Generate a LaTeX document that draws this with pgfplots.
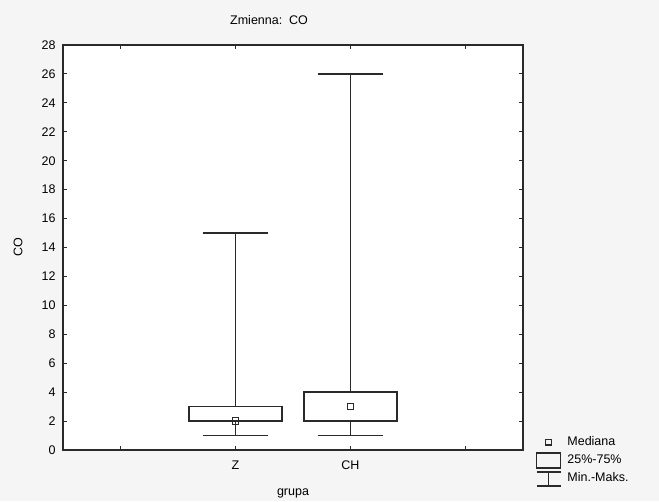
\documentclass[border=0pt]{standalone}
\usepackage{fontspec}
\setmainfont{Liberation Sans}
\usepackage{pgfplots}
\pgfplotsset{compat=1.18}
\usepgfplotslibrary{statistics}

\definecolor{frame}{HTML}{2A2A2A}

\begin{document}
\begin{tikzpicture}[font=\fontsize{12.5pt}{14pt}\selectfont]
\fill[black!4] (0,0) rectangle (659pt,501pt);
\begin{axis}[
  at={(63pt,51pt)}, anchor=south west,
  scale only axis, width=460pt, height=405pt,
  xmin=-0.5, xmax=3.5, ymin=0, ymax=28,
  xtick={0,1,2,3}, xticklabels={,Z,CH,},
  ytick={0,2,...,28},
  axis background/.style={fill=white},
  axis line style={line width=1.4pt, draw=frame},
  tick style={line width=1pt, draw=frame},
  major tick length=4pt,
  tick align=inside,
  /pgf/number format/assume math mode=true,
  xticklabel style={yshift=-7pt},
  yticklabel style={xshift=-4pt},
  title={Zmienna:\ \ CO},
  title style={at={(axis description cs:0.448,1)}, anchor=center, yshift=19pt},
  xlabel={grupa},
  xlabel style={at={(axis description cs:0.5,0)}, anchor=north, yshift=-35pt},
  ylabel={CO},
  ylabel style={at={(axis description cs:-0.0978,0.5)}, anchor=center},
  legend style={at={(axis description cs:1,0)}, anchor=north west,
    xshift=10pt, yshift=18pt, draw=none, fill=none,
    nodes={text height=9pt, text depth=3pt, inner xsep=6pt}, row sep=2.3pt},
  legend cell align=left,
  boxplot/draw direction=y,
  boxplot/draw/median/.code={},
  boxplot/every whisker/.style={draw=frame, line width=1.3pt},
  boxplot/every box/.style={draw=frame, line width=1.3pt, fill=white},
]
\addlegendimage{legend image code/.code={
  \draw[frame, line width=1.2pt] (9pt,-2.8pt) rectangle (14.6pt,2.8pt);
  \path[draw=none] (0pt,0pt) -- (24pt,0pt);}}
\addlegendimage{legend image code/.code={
  \draw[frame, line width=1.2pt] (0pt,-7.5pt) rectangle (24pt,7.5pt);}}
\addlegendimage{legend image code/.code={
  \draw[frame, line width=1.2pt] (0pt,7pt) -- (24pt,7pt) (12pt,7pt) -- (12pt,-7pt) (0pt,-7pt) -- (24pt,-7pt);}}
\legend{Mediana, 25\%-75\%, Min.-Maks.}

% Z
\addplot[forget plot, draw=frame, line width=1.3pt, fill=white,
  boxplot prepared={draw position=1, lower whisker=1, lower quartile=2,
    median=2, upper quartile=3, upper whisker=15,
    box extend=0.81, whisker extend=0.57}]
  coordinates {};
% CH
\addplot[forget plot, draw=frame, line width=1.3pt, fill=white,
  boxplot prepared={draw position=2, lower whisker=1, lower quartile=2,
    median=3, upper quartile=4, upper whisker=26,
    box extend=0.81, whisker extend=0.57}]
  coordinates {};
% medians
\addplot[forget plot, only marks, mark=square, mark size=3.2pt,
  mark options={draw=frame, line width=1.2pt, fill=white}]
  coordinates {(1,2) (2,3)};
\end{axis}
\end{tikzpicture}
\end{document}
